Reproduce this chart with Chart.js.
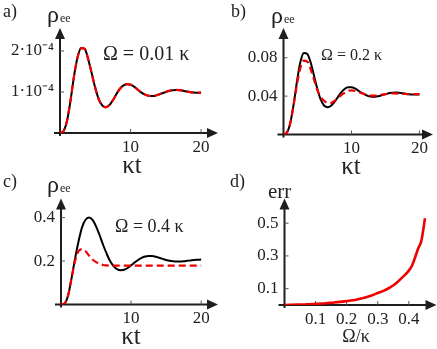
<!DOCTYPE html>
<html lang="en">
<head>
<meta charset="UTF-8">
<title>Excited state population panels</title>
<script src="https://cdn.jsdelivr.net/npm/chart.js"></script>
<style>
    body { margin: 0; background: #fff; }
    #page {
        position: relative;
        width: 437px;
        height: 349px;
        overflow: hidden;
        font-family: 'Liberation Serif', serif;
        color: #222;
    }
    canvas { position: absolute; }
    .lbl { position: absolute; white-space: nowrap; line-height: 1; }
    .mid { transform: translateX(-50%); }
    .sub { font-size: 12px; position: relative; top: 0px; margin-left: 1px; }
</style>
</head>
<body>
<div id="page">
    <canvas id="chartA" width="220" height="175" style="left:0;top:0"></canvas>
    <canvas id="chartB" width="217" height="175" style="left:220px;top:0"></canvas>
    <canvas id="chartC" width="220" height="174" style="left:0;top:175px"></canvas>
    <canvas id="chartD" width="217" height="174" style="left:220px;top:175px"></canvas>

    <div class="lbl" style="left:3px;top:2px;font-size:18px">a)</div>
    <div class="lbl" style="left:231px;top:2px;font-size:18px">b)</div>
    <div class="lbl" style="left:3px;top:172px;font-size:18px">c)</div>
    <div class="lbl" style="left:230px;top:172px;font-size:18px">d)</div>

    <div class="lbl" style="left:47px;top:2px;font-size:24px">ρ<span class="sub">ee</span></div>
    <div class="lbl" style="left:271px;top:3px;font-size:24px">ρ<span class="sub">ee</span></div>
    <div class="lbl" style="left:47px;top:172px;font-size:24px">ρ<span class="sub">ee</span></div>
    <div class="lbl" style="left:268px;top:181px;font-size:21px">err</div>

    <div class="lbl" style="left:103px;top:43px;font-size:20px">Ω = 0.01 κ</div>
    <div class="lbl" style="left:321px;top:47px;font-size:16px">Ω = 0.2 κ</div>
    <div class="lbl" style="left:115px;top:217px;font-size:18px">Ω = 0.4 κ</div>

    <div class="lbl mid" style="left:132px;top:152px;font-size:25px">κt</div>
    <div class="lbl mid" style="left:351px;top:153px;font-size:25px">κt</div>
    <div class="lbl mid" style="left:131px;top:323px;font-size:25px">κt</div>
    <div class="lbl mid" style="left:356px;top:327px;font-size:18px">Ω/κ</div>
</div>

<script>
    // time axis shared by panels a-c
    const tValues = [0, 0.5, 1, 1.5, 2, 2.5, 3, 3.5, 4, 4.5, 5, 5.5, 6, 6.5, 7, 7.5, 8, 8.5, 9, 9.5,
        10, 10.5, 11, 11.5, 12, 12.5, 13, 13.5, 14, 14.5, 15, 15.5, 16, 16.5, 17, 17.5, 18, 18.5, 19, 19.5, 20];

    // a) Omega = 0.01 kappa (full and approximate curves coincide)
    const exactA = [0, 0.05e-4, 0.3e-4, 0.8e-4, 1.4e-4, 1.85e-4, 2.07e-4, 2.05e-4, 1.8e-4, 1.45e-4,
        1.1e-4, 0.82e-4, 0.67e-4, 0.63e-4, 0.68e-4, 0.8e-4, 0.95e-4, 1.08e-4, 1.16e-4, 1.19e-4,
        1.18e-4, 1.13e-4, 1.06e-4, 0.99e-4, 0.94e-4, 0.91e-4, 0.905e-4, 0.91e-4, 0.94e-4, 0.97e-4,
        1.0e-4, 1.03e-4, 1.045e-4, 1.05e-4, 1.045e-4, 1.03e-4, 1.01e-4, 0.995e-4, 0.985e-4, 0.98e-4, 0.985e-4];
    const approxA = [0, 0.05e-4, 0.3e-4, 0.8e-4, 1.4e-4, 1.85e-4, 2.07e-4, 2.05e-4, 1.8e-4, 1.45e-4,
        1.1e-4, 0.82e-4, 0.67e-4, 0.63e-4, 0.68e-4, 0.8e-4, 0.95e-4, 1.08e-4, 1.16e-4, 1.19e-4,
        1.18e-4, 1.13e-4, 1.06e-4, 0.99e-4, 0.94e-4, 0.91e-4, 0.905e-4, 0.91e-4, 0.94e-4, 0.97e-4,
        1.0e-4, 1.03e-4, 1.045e-4, 1.05e-4, 1.045e-4, 1.03e-4, 1.01e-4, 0.995e-4, 0.985e-4, 0.98e-4, 0.985e-4];

    // b) Omega = 0.2 kappa
    const exactB = [0, 0.002, 0.012, 0.032, 0.056, 0.076, 0.085, 0.084, 0.075, 0.061,
        0.047, 0.036, 0.030, 0.0285, 0.030, 0.034, 0.039, 0.044, 0.0475, 0.0493,
        0.0493, 0.048, 0.0458, 0.0435, 0.0415, 0.040, 0.0393, 0.0393, 0.040, 0.041,
        0.042, 0.043, 0.0435, 0.0438, 0.0436, 0.043, 0.0425, 0.042, 0.0417, 0.0416, 0.0417];
    const approxB = [0, 0.002, 0.012, 0.031, 0.053, 0.070, 0.077, 0.076, 0.068, 0.057,
        0.046, 0.039, 0.035, 0.033, 0.033, 0.035, 0.038, 0.041, 0.0435, 0.0455,
        0.046, 0.0455, 0.0445, 0.043, 0.042, 0.041, 0.0405, 0.0405, 0.041, 0.0415,
        0.042, 0.0425, 0.0428, 0.0428, 0.0426, 0.0424, 0.0422, 0.042, 0.042, 0.042, 0.042];

    // c) Omega = 0.4 kappa
    const exactC = [0, 0.005, 0.04, 0.12, 0.21, 0.29, 0.355, 0.39, 0.40, 0.39,
        0.36, 0.32, 0.275, 0.235, 0.20, 0.177, 0.163, 0.158, 0.16, 0.168,
        0.18, 0.193, 0.205, 0.215, 0.221, 0.223, 0.223, 0.22, 0.215, 0.21,
        0.205, 0.201, 0.199, 0.198, 0.198, 0.199, 0.201, 0.203, 0.205, 0.206, 0.207];
    const approxC = [0, 0.005, 0.04, 0.12, 0.2, 0.245, 0.255, 0.245, 0.225, 0.207,
        0.195, 0.187, 0.182, 0.18, 0.179, 0.179, 0.179, 0.179, 0.179, 0.179,
        0.179, 0.179, 0.179, 0.179, 0.179, 0.179, 0.179, 0.179, 0.179, 0.179,
        0.179, 0.179, 0.179, 0.179, 0.179, 0.179, 0.179, 0.179, 0.179, 0.179, 0.179];

    // d) error vs Omega/kappa
    const omegaValues = [0, 0.02, 0.04, 0.06, 0.08, 0.10, 0.12, 0.14, 0.16, 0.18, 0.20, 0.22, 0.24,
        0.26, 0.28, 0.30, 0.32, 0.34, 0.36, 0.38, 0.40, 0.41, 0.42, 0.43, 0.44, 0.452];
    const errValues = [0, 0.001, 0.002, 0.003, 0.005, 0.007, 0.009, 0.012, 0.015, 0.019, 0.024, 0.029, 0.037,
        0.046, 0.058, 0.073, 0.088, 0.108, 0.135, 0.17, 0.21, 0.24, 0.29, 0.345, 0.39, 0.53];

    // ticks
    const tTicks = [10, 20];
    const tTickLabels = ['10', '20'];
    const yTicksA = [1e-4, 2e-4];
    const yTickLabelsA = ['1·10⁻⁴', '2·10⁻⁴'];
    const yTicksB = [0.04, 0.08];
    const yTickLabelsB = ['0.04', '0.08'];
    const yTicksC = [0.2, 0.4];
    const yTickLabelsC = ['0.2', '0.4'];
    const xTicksD = [0.1, 0.2, 0.3, 0.4];
    const xTickLabelsD = ['0.1', '0.2', '0.3', '0.4'];
    const yTicksD = [0.1, 0.3, 0.5];
    const yTickLabelsD = ['0.1', '0.3', '0.5'];

    const RED = '#f00000';
    const INK = '#1e1e1e';

    function pts(xs, ys) {
        return xs.map((x, i) => ({ x: x, y: ys[i] }));
    }

    // axes with arrow heads and small inward tick marks
    const arrowAxes = {
        id: 'arrowAxes',
        beforeDatasetsDraw(chart) {
            const { ctx, chartArea: a, scales } = chart;
            ctx.save();
            ctx.strokeStyle = INK;
            ctx.fillStyle = INK;
            ctx.lineWidth = 2;
            ctx.beginPath();
            ctx.moveTo(a.left - 6, a.bottom);
            ctx.lineTo(a.right - 8, a.bottom);
            ctx.moveTo(a.left, a.bottom + 3);
            ctx.lineTo(a.left, a.top + 8);
            ctx.stroke();
            // arrow heads
            ctx.beginPath();
            ctx.moveTo(a.right, a.bottom);
            ctx.lineTo(a.right - 11, a.bottom - 5);
            ctx.lineTo(a.right - 11, a.bottom + 5);
            ctx.closePath();
            ctx.fill();
            ctx.beginPath();
            ctx.moveTo(a.left, a.top);
            ctx.lineTo(a.left - 5, a.top + 11);
            ctx.lineTo(a.left + 5, a.top + 11);
            ctx.closePath();
            ctx.fill();
            // tick marks
            ctx.lineWidth = 1;
            ctx.strokeStyle = '#555';
            ctx.beginPath();
            scales.x.ticks.forEach(t => {
                const px = scales.x.getPixelForValue(t.value);
                ctx.moveTo(px, a.bottom);
                ctx.lineTo(px, a.bottom - 4);
            });
            scales.y.ticks.forEach(t => {
                const py = scales.y.getPixelForValue(t.value);
                ctx.moveTo(a.left, py);
                ctx.lineTo(a.left + 4, py);
            });
            ctx.stroke();
            ctx.restore();
        }
    };

    function makePanel(id, cfg) {
        const tickFont = { family: 'Liberation Serif', size: 17 };
        new Chart(document.getElementById(id), {
            type: 'line',
            data: { datasets: cfg.datasets },
            options: {
                responsive: false,
                animation: false,
                layout: { padding: { left: 0, top: cfg.top, right: cfg.right, bottom: 0 } },
                plugins: { legend: { display: false }, tooltip: { enabled: false } },
                elements: { point: { radius: 0 } },
                scales: {
                    x: {
                        type: 'linear',
                        min: 0,
                        max: cfg.xMax,
                        grid: { display: false, drawTicks: false },
                        border: { display: false },
                        afterBuildTicks: s => { s.ticks = cfg.xTicks.map(v => ({ value: v })); },
                        afterFit: s => { s.height = cfg.xHeight; },
                        ticks: {
                            font: tickFont,
                            color: '#222',
                            padding: 4,
                            maxRotation: 0,
                            autoSkip: false,
                            callback: (v, i) => cfg.xLabels[i]
                        }
                    },
                    y: {
                        min: 0,
                        max: cfg.yMax,
                        grid: { display: false, drawTicks: false },
                        border: { display: false },
                        afterBuildTicks: s => { s.ticks = cfg.yTicks.map(v => ({ value: v })); },
                        afterFit: s => { s.width = cfg.yWidth; },
                        ticks: {
                            font: tickFont,
                            color: '#222',
                            padding: 6,
                            autoSkip: false,
                            callback: (v, i) => cfg.yLabels[i]
                        }
                    }
                }
            },
            plugins: [arrowAxes]
        });
    }

    function pairDatasets(exact, approx) {
        return [
            { data: pts(tValues, approx), borderColor: RED, borderWidth: 2.2, borderDash: [7, 4], cubicInterpolationMode: 'monotone' },
            { data: pts(tValues, exact), borderColor: '#000', borderWidth: 2, cubicInterpolationMode: 'monotone' }
        ];
    }

    makePanel('chartA', {
        datasets: pairDatasets(exactA, approxA),
        top: 28, right: 2, xHeight: 42, yWidth: 60,
        xMax: 22.4, yMax: 2.56e-4,
        xTicks: tTicks, xLabels: tTickLabels, yTicks: yTicksA, yLabels: yTickLabelsA
    });

    makePanel('chartB', {
        datasets: pairDatasets(exactB, approxB),
        top: 28, right: 4, xHeight: 40.5, yWidth: 63.5,
        xMax: 22, yMax: 0.111,
        xTicks: tTicks, xLabels: tTickLabels, yTicks: yTicksB, yLabels: yTickLabelsB
    });

    makePanel('chartC', {
        datasets: pairDatasets(exactC, approxC),
        top: 23.5, right: 2, xHeight: 44.5, yWidth: 61,
        xMax: 22.4, yMax: 0.488,
        xTicks: tTicks, xLabels: tTickLabels, yTicks: yTicksC, yLabels: yTickLabelsC
    });

    makePanel('chartD', {
        datasets: [
            { data: pts(omegaValues, errValues), borderColor: RED, borderWidth: 2.6, cubicInterpolationMode: 'monotone' }
        ],
        top: 23.5, right: 0.5, xHeight: 44, yWidth: 64.5,
        xMax: 0.489, yMax: 0.651,
        xTicks: xTicksD, xLabels: xTickLabelsD, yTicks: yTicksD, yLabels: yTickLabelsD
    });
</script>
</body>
</html>
